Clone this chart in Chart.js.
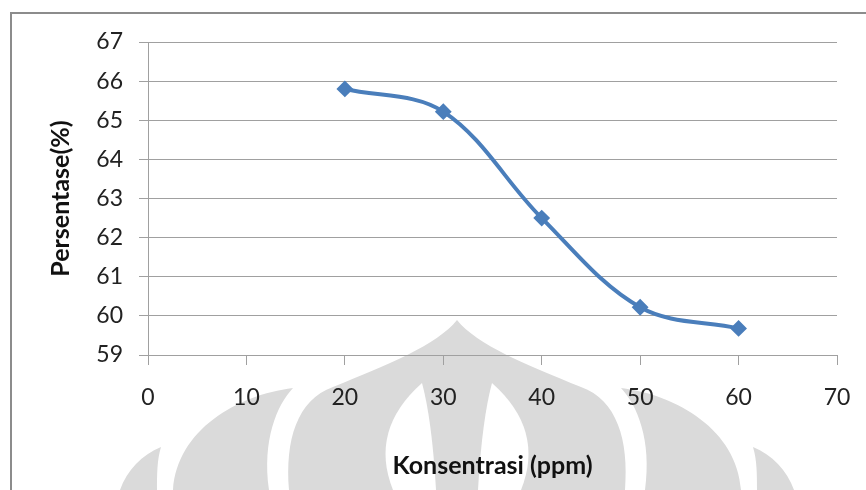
<!DOCTYPE html>
<html>
<head>
<meta charset="utf-8">
<script src="https://cdn.jsdelivr.net/npm/chart.js@4/dist/chart.umd.min.js"></script>
<style>
  html, body { margin: 0; padding: 0; background: #fff; }
  #wrap { width: 866px; height: 490px; }
</style>
</head>
<body>
<div id="wrap"><canvas id="grafik" width="866" height="490"></canvas></div>
<script>
// data
const konsentrasi = [20, 30, 40, 50, 60];
const persentase = [65.8, 65.22, 62.5, 60.22, 59.68];
const xRange = [0, 70, 10];
const yRange = [59, 67, 1];

const judulX = "Konsentrasi (ppm)";
const judulY = "Persentase(%)";

const biru = "#4a7ebb";
const abuGrid = "#a0a0a0";

// watermark logo samar di belakang grafik + bingkai
const latarPlugin = {
  id: "latar",
  beforeDraw(chart) {
    const ctx = chart.ctx;
    ctx.save();
    ctx.fillStyle = "#dadada";
    const cx = 457;
    // kubah tengah
    ctx.beginPath();
    ctx.moveTo(cx, 320);
    ctx.bezierCurveTo(cx - 20, 345, cx - 70, 365, cx - 124, 387);
    ctx.bezierCurveTo(cx - 160, 400, cx - 172, 440, cx - 168, 490);
    ctx.lineTo(cx + 168, 490);
    ctx.bezierCurveTo(cx + 172, 440, cx + 160, 400, cx + 124, 387);
    ctx.bezierCurveTo(cx + 70, 365, cx + 20, 345, cx, 320);
    ctx.fill();

    [-1, 1].forEach(s => {
      // lobus samping
      ctx.fillStyle = "#dadada";
      ctx.beginPath();
      ctx.moveTo(cx + s * 164, 388);
      ctx.bezierCurveTo(cx + s * 220, 395, cx + s * 280, 430, cx + s * 284, 490);
      ctx.lineTo(cx + s * 188, 490);
      ctx.bezierCurveTo(cx + s * 195, 440, cx + s * 180, 405, cx + s * 164, 388);
      ctx.fill();
      // lobus terluar
      ctx.beginPath();
      ctx.moveTo(cx + s * 296, 447);
      ctx.bezierCurveTo(cx + s * 315, 455, cx + s * 330, 470, cx + s * 337, 490);
      ctx.lineTo(cx + s * 300, 490);
      ctx.bezierCurveTo(cx + s * 300, 475, cx + s * 300, 460, cx + s * 296, 447);
      ctx.fill();
      // celah putih di dalam kubah
      ctx.fillStyle = "#ffffff";
      ctx.beginPath();
      ctx.moveTo(cx + s * 35, 383);
      ctx.quadraticCurveTo(cx + s * 88, 430, cx + s * 64, 490);
      ctx.lineTo(cx + s * 21, 490);
      ctx.quadraticCurveTo(cx + s * 25, 420, cx + s * 35, 383);
      ctx.fill();
    });

    // bingkai luar
    ctx.strokeStyle = "#8c8c8c";
    ctx.lineWidth = 2;
    ctx.beginPath();
    ctx.moveTo(11, chart.height);
    ctx.lineTo(11, 13);
    ctx.lineTo(chart.width, 13);
    ctx.stroke();
    ctx.restore();
  }
};

new Chart(document.getElementById("grafik"), {
  type: "scatter",
  data: {
    datasets: [{
      data: konsentrasi.map((x, i) => ({ x: x, y: persentase[i] })),
      showLine: true,
      borderColor: biru,
      backgroundColor: biru,
      borderWidth: 4,
      tension: 0.35,
      pointStyle: "rectRot",
      pointRadius: 7,
      pointBorderWidth: 2,
      pointBorderColor: biru,
      pointBackgroundColor: biru
    }]
  },
  options: {
    responsive: false,
    animation: false,
    layout: { padding: { left: 10, top: 42, right: 29, bottom: 0 } },
    plugins: {
      legend: { display: false },
      tooltip: { enabled: false }
    },
    scales: {
      x: {
        type: "linear",
        min: xRange[0],
        max: xRange[1],
        afterFit(scale) {
          scale.height = 135;
          scale.paddingRight = 0;
        },
        ticks: {
          stepSize: xRange[2],
          padding: 19,
          color: "#222",
          font: { family: "Lato", size: 23 }
        },
        grid: { drawOnChartArea: false, drawTicks: true, tickLength: 10, color: abuGrid },
        border: { color: abuGrid },
        title: {
          display: true,
          text: judulX,
          color: "#111",
          font: { family: "Lato", size: 25, weight: "bold" },
          padding: { top: 0, bottom: 9 }
        }
      },
      y: {
        min: yRange[0],
        max: yRange[1],
        afterFit(scale) { scale.width = 138; },
        ticks: {
          stepSize: yRange[2],
          padding: 16,
          color: "#222",
          font: { family: "Lato", size: 23 }
        },
        grid: { color: abuGrid, tickLength: 9 },
        border: { color: abuGrid },
        title: {
          display: true,
          text: judulY,
          color: "#111",
          font: { family: "Lato", size: 25, weight: "bold" },
          padding: { top: 36, bottom: 0 }
        }
      }
    }
  },
  plugins: [latarPlugin]
});
</script>
</body>
</html>
